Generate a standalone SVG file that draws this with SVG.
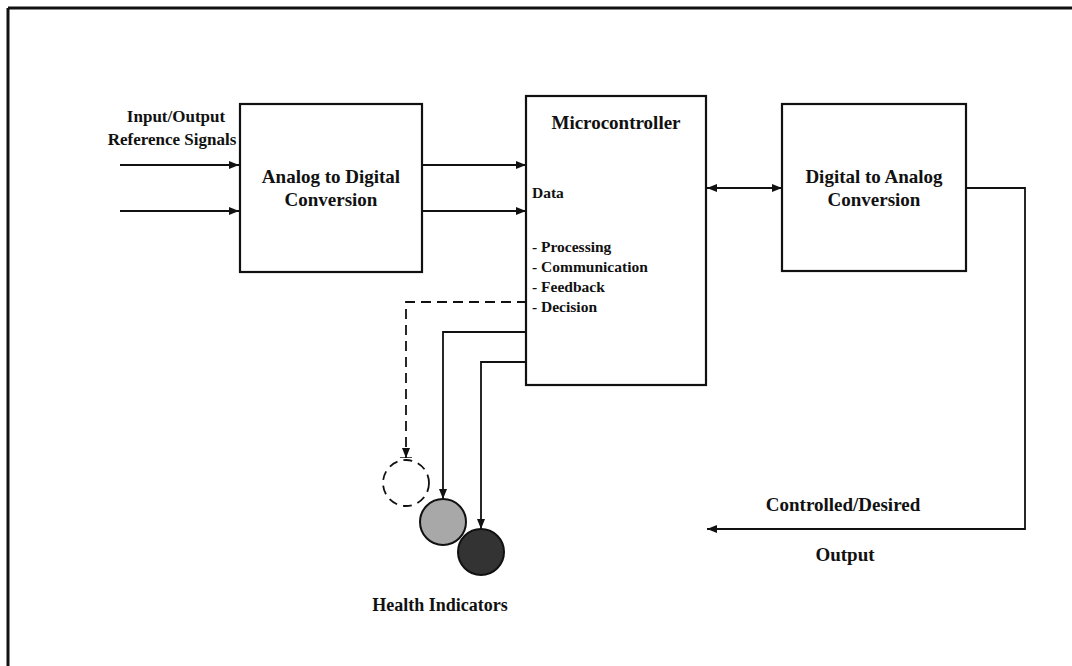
<svg xmlns="http://www.w3.org/2000/svg" width="1072" height="666" viewBox="0 0 1072 666">
<defs>
<style>
.box{fill:#fff;stroke:#111;stroke-width:2.2}
.ln{fill:none;stroke:#111;stroke-width:1.8}
.dash{fill:none;stroke:#111;stroke-width:1.8;stroke-dasharray:10,6}
.t{font-family:"Liberation Serif","Times New Roman",serif;font-weight:bold;fill:#111}
.big{font-size:19px}
.mid{font-size:17px}
.sm{font-size:15.5px}
</style>
<marker id="ah" viewBox="0 0 10 8" refX="10" refY="4" markerWidth="10" markerHeight="8" markerUnits="userSpaceOnUse" orient="auto-start-reverse">
<path d="M0,0 L10,4 L0,8 Z" fill="#111"/>
</marker>
<marker id="ahT" viewBox="0 0 10 12" refX="10" refY="6" markerWidth="10" markerHeight="12" markerUnits="userSpaceOnUse" orient="auto">
<path d="M0,2 L10,6 L0,10 Z" fill="#111"/>
<path d="M10,0 L10,12" stroke="#111" stroke-width="1.5"/>
</marker>
</defs>
<rect width="1072" height="666" fill="#fff"/>
<g id="frame">
<path d="M8,8 H1072 M8,8 V666" fill="none" stroke="#111" stroke-width="3"/>
</g>
<g id="connectors">
<path class="ln" d="M120,165 H239" marker-end="url(#ah)" stroke-width="1.4"/>
<path class="ln" d="M120,211 H239" marker-end="url(#ah)"/>
<path class="ln" d="M423,165 H526" marker-end="url(#ah)" stroke-width="1.4"/>
<path class="ln" d="M423,211 H526" marker-end="url(#ah)"/>
<path class="ln" d="M707,188 H782" marker-start="url(#ah)" marker-end="url(#ah)"/>
<path class="ln" d="M967,188 H1025 V529 H707" marker-end="url(#ah)"/>
<path class="dash" d="M527,302 H406 V458" marker-end="url(#ahT)"/>
<path class="ln" d="M527,332 H443 V499" marker-end="url(#ah)"/>
<path class="ln" d="M527,362 H481 V529" marker-end="url(#ah)"/>
</g>
<g id="input-label">
<text class="t mid" x="176" y="122" text-anchor="middle">Input/Output</text>
<text class="t mid" x="172" y="145" text-anchor="middle">Reference Signals</text>
</g>
<g id="adc">
<rect class="box" x="240" y="104" width="182" height="168"/>
<text class="t big" x="331" y="183" text-anchor="middle">Analog to Digital</text>
<text class="t big" x="331" y="206" text-anchor="middle">Conversion</text>
</g>
<g id="mcu">
<rect class="box" x="526" y="96" width="180" height="289"/>
<text class="t big" x="616" y="129" text-anchor="middle">Microcontroller</text>
<text class="t sm" x="532" y="198">Data</text>
<text class="t sm" x="532" y="252">- Processing</text>
<text class="t sm" x="532" y="272">- Communication</text>
<text class="t sm" x="532" y="292">- Feedback</text>
<text class="t sm" x="532" y="312">- Decision</text>
</g>
<g id="dac">
<rect class="box" x="782" y="104" width="184" height="167"/>
<text class="t big" x="874" y="183" text-anchor="middle">Digital to Analog</text>
<text class="t big" x="874" y="206" text-anchor="middle">Conversion</text>
</g>
<g id="output-label">
<text class="t big" x="843" y="511" text-anchor="middle">Controlled/Desired</text>
<text class="t big" x="845" y="561" text-anchor="middle">Output</text>
</g>
<g id="indicator-off">
<circle cx="406" cy="483" r="23" fill="#fff" stroke="#111" stroke-width="1.8" stroke-dasharray="9,6"/>
</g>
<g id="indicator-gray">
<circle cx="443" cy="522" r="23" fill="#a8a8a8" stroke="#111" stroke-width="2"/>
</g>
<g id="indicator-dark">
<circle cx="481" cy="552" r="23" fill="#333" stroke="#111" stroke-width="2"/>
</g>
<g id="health-label">
<text class="t" style="font-size:18px" x="440" y="611" text-anchor="middle">Health Indicators</text>
</g>
</svg>
